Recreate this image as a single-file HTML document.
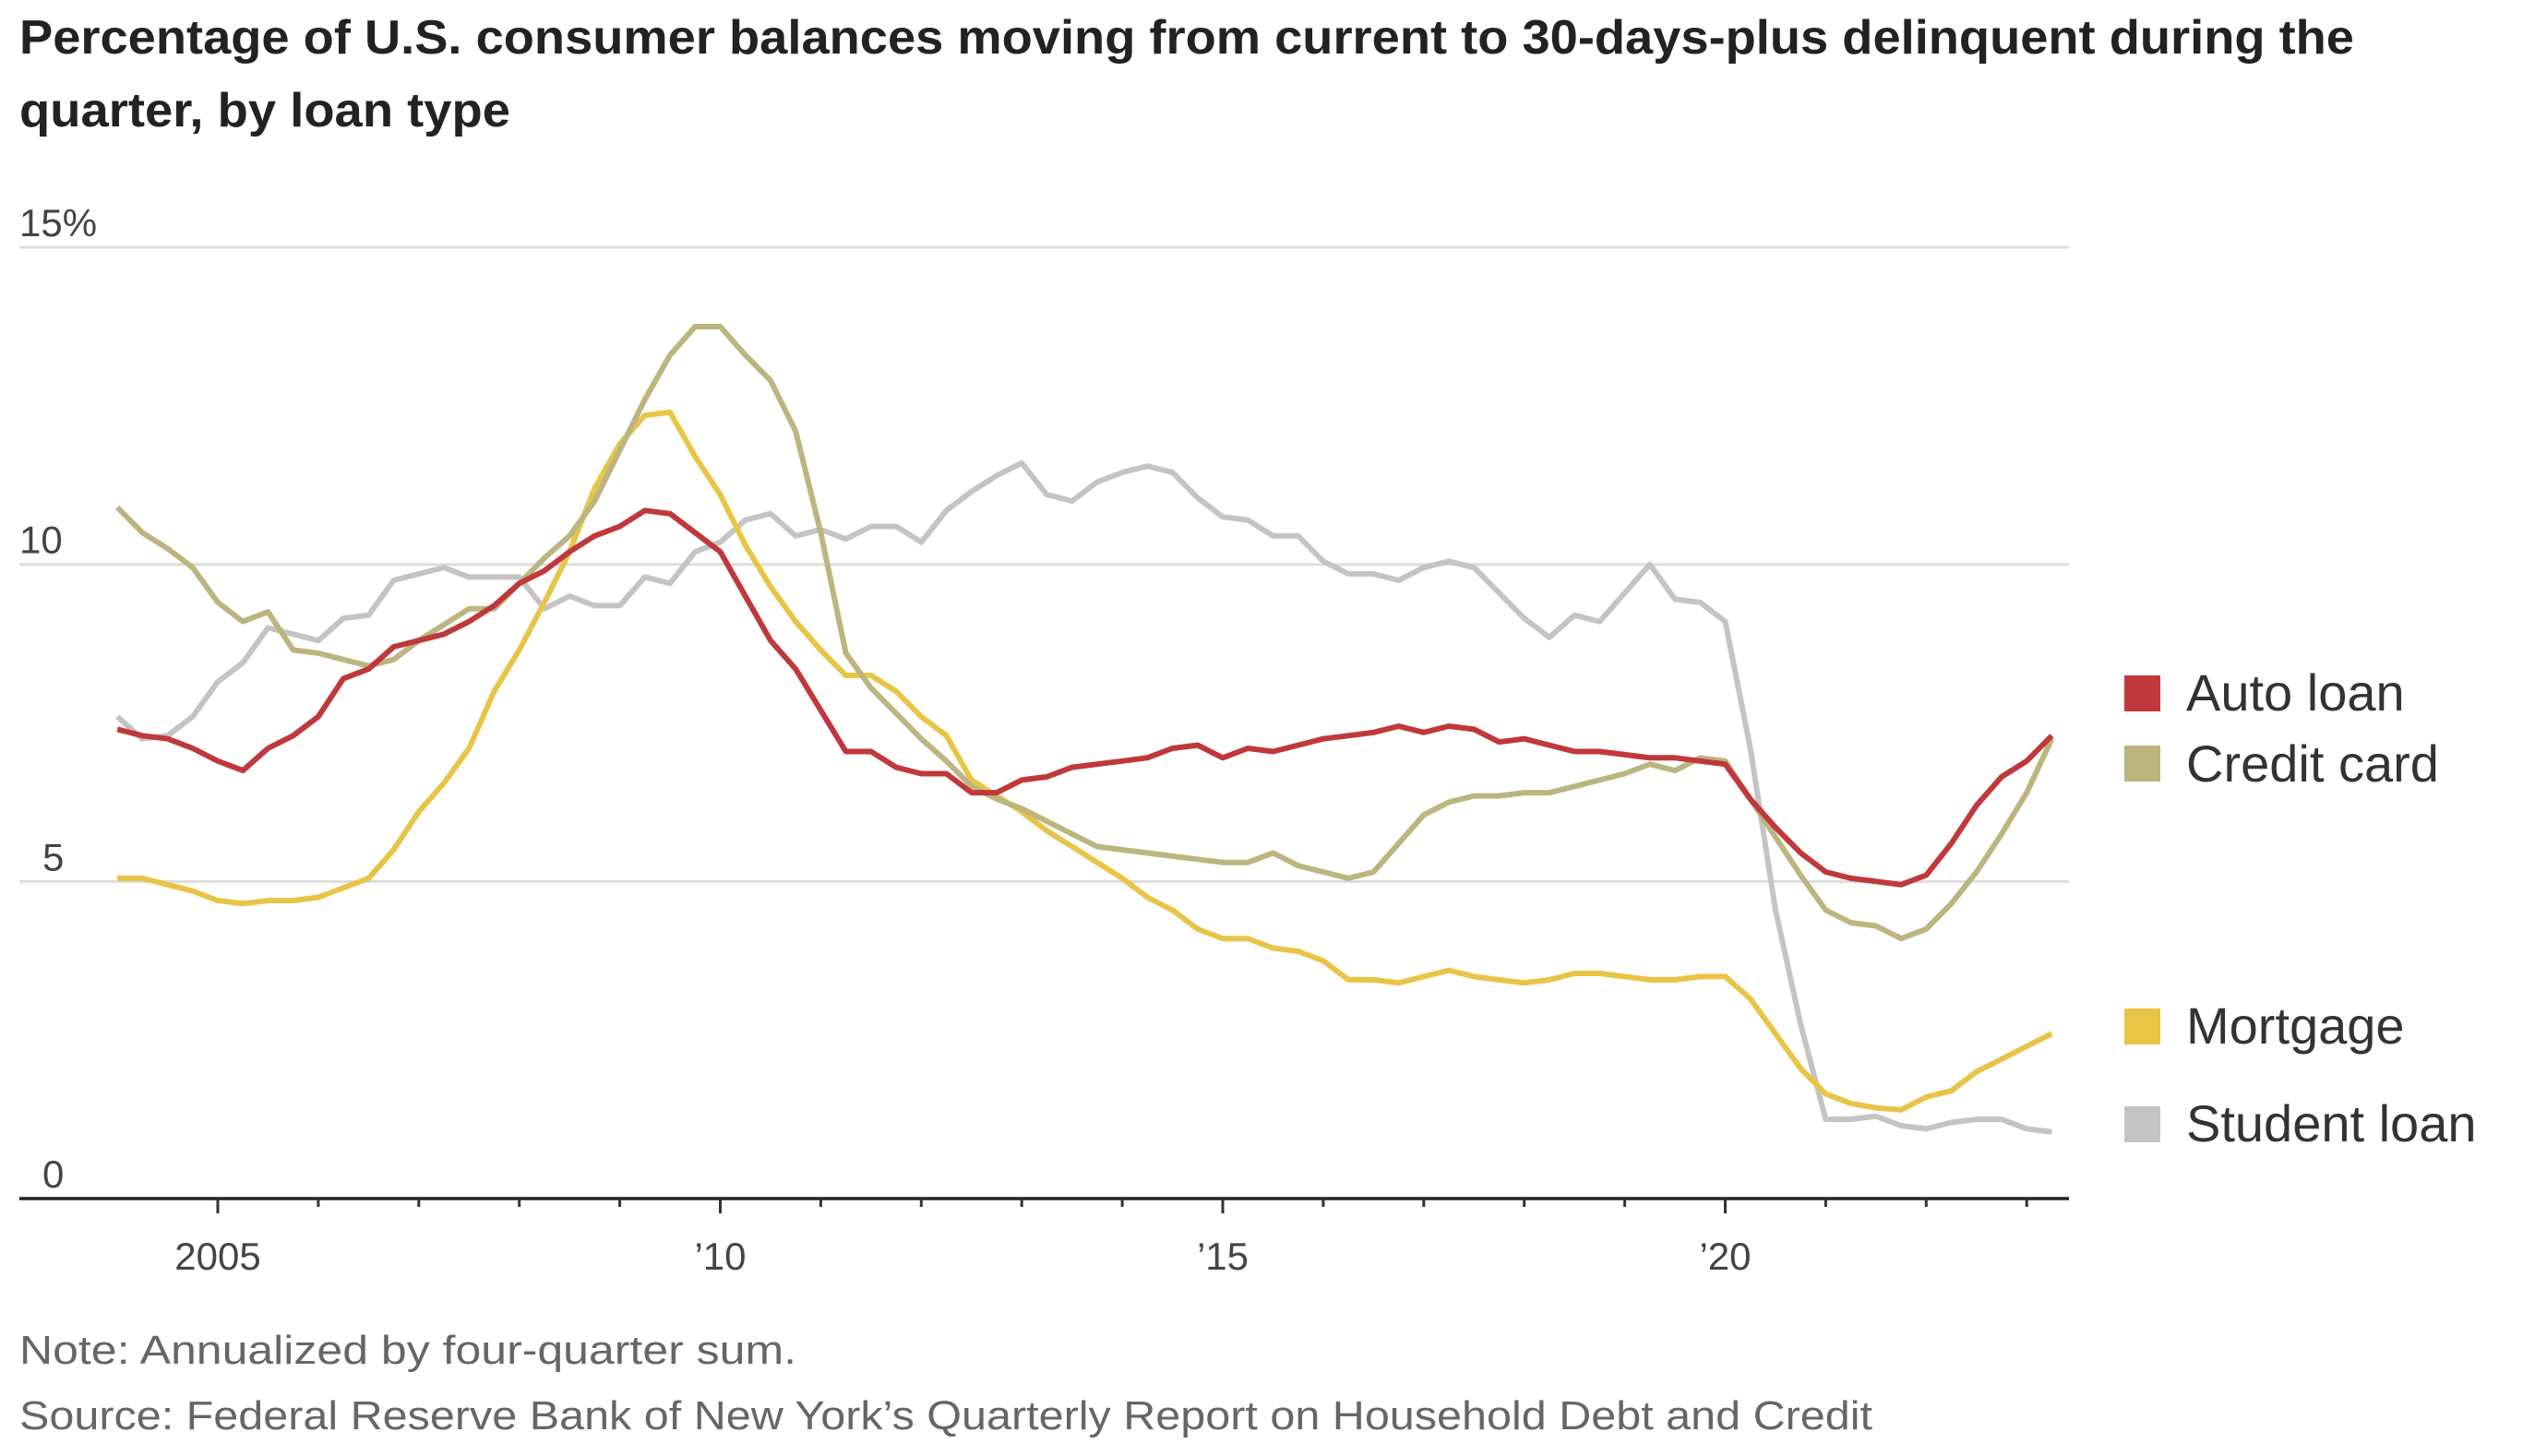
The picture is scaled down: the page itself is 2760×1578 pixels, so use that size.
<!DOCTYPE html>
<html><head><meta charset="utf-8"><style>
html,body{margin:0;padding:0;background:#fff;}
svg{display:block;font-family:"Liberation Sans",sans-serif;}
</style></head><body>
<svg id="chart" width="2760" height="1578" viewBox="0 0 2760 1578" xmlns="http://www.w3.org/2000/svg">
<text x="21" y="58" font-size="52" font-weight="bold" fill="#222" textLength="2530" lengthAdjust="spacingAndGlyphs">Percentage of U.S. consumer balances moving from current to 30-days-plus delinquent during the</text>
<text x="21" y="137" font-size="52" font-weight="bold" fill="#222" textLength="532" lengthAdjust="spacingAndGlyphs">quarter, by loan type</text>
<g id="grid"></g><g id="axes"></g><g id="series"></g>
<g font-size="56" fill="#333">
<rect x="2302" y="732" width="39" height="39" fill="#c0383b"/>
<text x="2369" y="770">Auto loan</text>
<rect x="2302" y="808" width="39" height="39" fill="#bcb57f"/>
<text x="2369" y="847">Credit card</text>
<rect x="2302" y="1093" width="39" height="39" fill="#e8c547"/>
<text x="2369" y="1131">Mortgage</text>
<rect x="2302" y="1199" width="39" height="39" fill="#c4c4c4"/>
<text x="2369" y="1237">Student loan</text>
</g>
<text x="21" y="1478" font-size="44" fill="#666" textLength="842" lengthAdjust="spacingAndGlyphs">Note: Annualized by four-quarter sum.</text>
<text x="21" y="1549" font-size="44" fill="#666" textLength="2008" lengthAdjust="spacingAndGlyphs">Source: Federal Reserve Bank of New York’s Quarterly Report on Household Debt and Credit</text>
</svg>
<script>
const startYear = 2004;
const yTicks = [0, 5, 10, 15];
const yTickLabels = ["0", "5", "10", "15%"];
const xMajorYears = [2005, 2010, 2015, 2020];
const xMajorLabels = ["2005", "’10", "’15", "’20"];
const autoLoan = [7.4,7.3,7.25,7.1, 6.9,6.75,7.1,7.3, 7.6,8.2,8.35,8.7, 8.8,8.9,9.1,9.35, 9.7,9.9,10.2,10.45, 10.6,10.85,10.8,10.5, 10.2,9.5,8.8,8.35, 7.7,7.05,7.05,6.8, 6.7,6.7,6.4,6.4, 6.6,6.65,6.8,6.85, 6.9,6.95,7.1,7.15, 6.95,7.1,7.05,7.15, 7.25,7.3,7.35,7.45, 7.35,7.45,7.4,7.2, 7.25,7.15,7.05,7.05, 7.0,6.95,6.95,6.9, 6.85,6.3,5.85,5.45, 5.15,5.05,5.0,4.95, 5.1,5.6,6.2,6.65, 6.9,7.3];
const creditCard = [10.9,10.5,10.25,9.95, 9.4,9.1,9.25,8.65, 8.6,8.5,8.4,8.5, 8.8,9.05,9.3,9.3, 9.7,10.1,10.45,11.0, 11.8,12.6,13.3,13.75, 13.75,13.3,12.9,12.1, 10.5,8.6,8.05,7.65, 7.25,6.9,6.5,6.3, 6.15,5.95,5.75,5.55, 5.5,5.45,5.4,5.35, 5.3,5.3,5.45,5.25, 5.15,5.05,5.15,5.6, 6.05,6.25,6.35,6.35, 6.4,6.4,6.5,6.6, 6.7,6.85,6.75,6.95, 6.9,6.3,5.7,5.1, 4.55,4.35,4.3,4.1, 4.25,4.65,5.15,5.75, 6.4,7.25];
const mortgage = [5.05,5.05,4.95,4.85, 4.7,4.65,4.7,4.7, 4.75,4.9,5.05,5.5, 6.1,6.55,7.1,8.0, 8.65,9.4,10.2,11.2, 11.9,12.35,12.4,11.7, 11.1,10.3,9.65,9.1, 8.65,8.25,8.25,8.0, 7.6,7.3,6.6,6.35, 6.1,5.8,5.55,5.3, 5.05,4.75,4.55,4.25, 4.1,4.1,3.95,3.9, 3.75,3.45,3.45,3.4, 3.5,3.6,3.5,3.45, 3.4,3.45,3.55,3.55, 3.5,3.45,3.45,3.5, 3.5,3.15,2.6,2.05, 1.65,1.5,1.43,1.4, 1.6,1.7,2.0,2.2, 2.4,2.6];
const studentLoan = [7.6,7.25,7.3,7.6, 8.15,8.45,9.0,8.9, 8.8,9.15,9.2,9.75, 9.85,9.95,9.8,9.8, 9.8,9.3,9.5,9.35, 9.35,9.8,9.7,10.2, 10.35,10.7,10.8,10.45, 10.55,10.4,10.6,10.6, 10.35,10.85,11.15,11.4, 11.6,11.1,11.0,11.3, 11.45,11.55,11.45,11.05, 10.75,10.7,10.45,10.45, 10.05,9.85,9.85,9.75, 9.95,10.05,9.95,9.55, 9.15,8.85,9.2,9.1, 9.55,10.0,9.45,9.4, 9.1,7.1,4.55,2.75, 1.25,1.25,1.3,1.15, 1.1,1.2,1.25,1.25, 1.1,1.05];

const NS = "http://www.w3.org/2000/svg";
const plotLeft = 21, plotRight = 2242;
function xScale(year){ return 236 + (year - 2005) * 108.9; }
function yScale(v){ return 1299 - v * 68.73; }
function mk(tag, attrs, parent){ const e = document.createElementNS(NS, tag); for (const k in attrs) e.setAttribute(k, attrs[k]); parent.appendChild(e); return e; }

const grid = document.getElementById('grid');
yTicks.forEach((t, i) => {
  if (t !== 0) {
    const l = mk('line', {x1: plotLeft, x2: plotRight, y1: yScale(t), y2: yScale(t), stroke: '#ddd', 'stroke-width': 3}, grid);
    
    
  }
  const tx = mk('text', {x: t === 0 || t === 5 ? 46 : 21, y: yScale(t) - 12, 'font-size': 42, fill: '#444'}, grid);
  tx.textContent = yTickLabels[i];
  
  
});

const axes = document.getElementById('axes');
const ax = mk('line', {x1: plotLeft, x2: plotRight, y1: 1299, y2: 1299, stroke: '#222', 'stroke-width': 3.5}, axes);


for (let y = 2005; y <= 2023; y++) {
  const major = xMajorYears.indexOf(y) >= 0;
  const tk = mk('line', {x1: xScale(y), x2: xScale(y), y1: 1299, y2: major ? 1315 : 1308, stroke: '#333', 'stroke-width': 3}, axes);
  
  
}
xMajorYears.forEach((y, i) => {
  const tx = mk('text', {x: xScale(y), y: 1376, 'font-size': 42, fill: '#444', 'text-anchor': 'middle'}, axes);
  tx.textContent = xMajorLabels[i];
  
  
});

const seriesG = document.getElementById('series');
const seriesList = [
  ['student-loan-line', studentLoan, '#c4c4c4'],
  ['mortgage-line', mortgage, '#e8c547'],
  ['credit-card-line', creditCard, '#bcb57f'],
  ['auto-loan-line', autoLoan, '#c0383b']
];
seriesList.forEach(s => {
  const pts = s[1].map((v, i) => xScale(startYear + i / 4).toFixed(1) + ',' + yScale(v).toFixed(1)).join(' ');
  const p = mk('polyline', {points: pts, fill: 'none', stroke: s[2], 'stroke-width': 6, 'stroke-linejoin': 'round'}, seriesG);
  
  
});
</script>
</body></html>
